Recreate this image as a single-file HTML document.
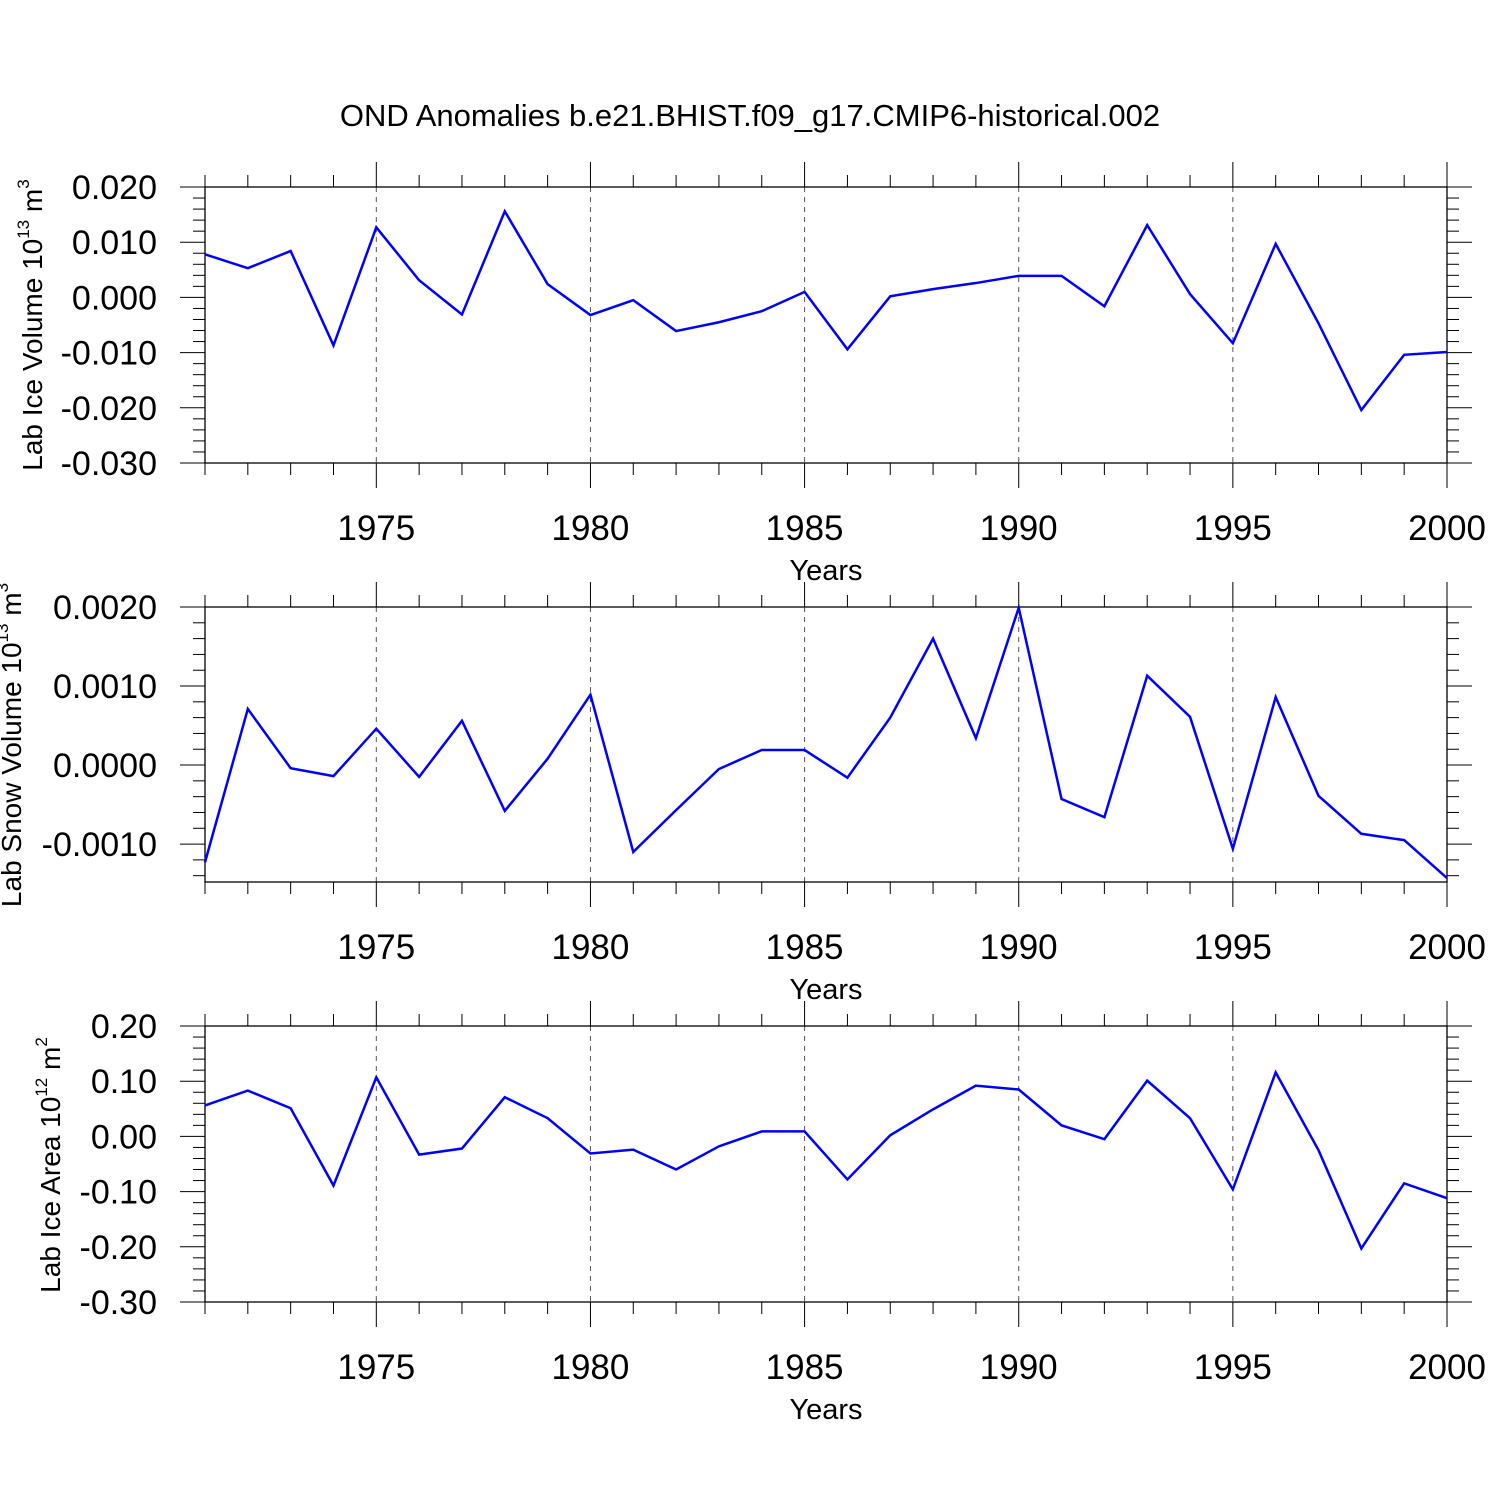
<!DOCTYPE html>
<html><head><meta charset="utf-8"><style>
body{margin:0;background:#fff;}
svg{display:block;font-family:"Liberation Sans",sans-serif;}
</style></head><body>
<svg id="chart" width="1500" height="1500" viewBox="0 0 1500 1500" xmlns="http://www.w3.org/2000/svg">
<rect width="1500" height="1500" fill="#fff"/>
<text x="750" y="126" font-size="31" text-anchor="middle">OND Anomalies b.e21.BHIST.f09_g17.CMIP6-historical.002</text>
</svg>
<script>
const years = [1971,1972,1973,1974,1975,1976,1977,1978,1979,1980,1981,1982,1983,1984,1985,1986,1987,1988,1989,1990,1991,1992,1993,1994,1995,1996,1997,1998,1999,2000];
const iceVolume = [0.0078,0.0053,0.0084,-0.0087,0.0127,0.0031,-0.0031,0.0156,0.0024,-0.0032,-0.0005,-0.0061,-0.0045,-0.0025,0.0010,-0.0094,0.0002,0.0015,0.0026,0.0039,0.0039,-0.0016,0.0131,0.0006,-0.0083,0.0097,-0.0047,-0.0204,-0.0104,-0.0099];
const snowVolume = [-0.00123,0.00071,-0.00004,-0.00014,0.00046,-0.00015,0.00056,-0.00058,0.00008,0.00089,-0.0011,-0.00057,-0.00005,0.00019,0.00019,-0.00016,0.0006,0.0016,0.00034,0.00199,-0.00043,-0.00066,0.00113,0.00061,-0.00106,0.00086,-0.00039,-0.00087,-0.00095,-0.00143];
const iceArea = [0.056,0.083,0.051,-0.089,0.107,-0.033,-0.022,0.071,0.033,-0.031,-0.024,-0.060,-0.018,0.009,0.009,-0.078,0.002,0.049,0.092,0.085,0.020,-0.005,0.101,0.033,-0.096,0.116,-0.025,-0.203,-0.085,-0.112];
const xTickYears = [1975,1980,1985,1990,1995,2000];
const iceVolTicks = ["0.020","0.010","0.000","-0.010","-0.020","-0.030"];
const snowVolTicks = ["0.0020","0.0010","0.0000","-0.0010"];
const iceAreaTicks = ["0.20","0.10","0.00","-0.10","-0.20","-0.30"];

const NS="http://www.w3.org/2000/svg";
const svg=document.getElementById('chart');
function mk(tag,attrs,parent){const e=document.createElementNS(NS,tag);for(const k in attrs)e.setAttribute(k,attrs[k]);(parent||svg).appendChild(e);return e;}
const X0=205,X1=1447;
function xs(y){return X0+(y-1971)*(X1-X0)/29;}

function panel(name,top,bot,ymax,ymin,majStep,nMinor,ticks,data,title,sup,unitSup,titleX,titleY){
  const g=mk('g',{});
  
  
  const ys=v=>top+(ymax-v)*(bot-top)/(ymax-ymin);
  for(const yr of xTickYears){ if(yr===2000) continue;
    const l=mk('line',{x1:xs(yr),x2:xs(yr),y1:top,y2:bot,stroke:'#555','stroke-width':1,'stroke-dasharray':'5,5'},g);
    
    
  }
  const fr=mk('rect',{x:X0,y:top,width:X1-X0,height:bot-top,fill:'none',stroke:'#000','stroke-width':1.3},g);
  
  
  for(const yr of years){
    const maj=xTickYears.includes(yr);const L=maj?25:12;
    mk('line',{x1:xs(yr),x2:xs(yr),y1:top-L,y2:top,stroke:'#000','stroke-width':1},g);
    mk('line',{x1:xs(yr),x2:xs(yr),y1:bot,y2:bot+L,stroke:'#000','stroke-width':1},g);
  }
  for(const yr of xTickYears){
    const t=mk('text',{x:xs(yr),y:bot+77,'font-size':35,'text-anchor':'middle'},g);
    t.textContent=yr;
    
    
  }
  const xt=mk('text',{x:826,y:bot+117,'font-size':29,'text-anchor':'middle'},g);
  xt.textContent='Years';
  
  
  const minor=majStep/nMinor;
  for(let v=ymax;v>=ymin-1e-12;v-=minor){
    const k=Math.round((ymax-v)/minor);const maj=k%nMinor===0;const L=maj?25:12;const y=ys(v);
    mk('line',{x1:X0-L,x2:X0,y1:y,y2:y,stroke:'#000','stroke-width':1},g);
    mk('line',{x1:X1,x2:X1+L,y1:y,y2:y,stroke:'#000','stroke-width':1},g);
  }
  ticks.forEach((s,i)=>{
    const t=mk('text',{x:157,y:ys(ymax-i*majStep)+12,'font-size':34,'text-anchor':'end'},g);
    t.textContent=s;
    
    
  });
  const yt=mk('text',{transform:`translate(${titleX},${titleY}) rotate(-90)`,'font-size':28,'text-anchor':'middle'},g);
  
  
  yt.innerHTML=title+' 10<tspan dy="-13" font-size="17">'+sup+'</tspan><tspan dy="13"> m</tspan><tspan dy="-13" font-size="17">'+unitSup+'</tspan>';
  const pts=years.map((yr,i)=>xs(yr)+','+ys(data[i])).join(' ');
  const pl=mk('polyline',{points:pts,fill:'none',stroke:'#0000ff','stroke-width':2.5,'stroke-linejoin':'miter'},g);
  
  
}
panel('ice-volume',187,463,0.020,-0.030,0.010,5,iceVolTicks,iceVolume,'Lab Ice Volume','13','3',42,325);
panel('snow-volume',607,882,0.0020,-0.00148,0.0010,5,snowVolTicks,snowVolume,'Lab Snow Volume','13','3',21,745);
panel('ice-area',1026,1302,0.20,-0.30,0.10,5,iceAreaTicks,iceArea,'Lab Ice Area','12','2',60,1165);
</script>
</body></html>
